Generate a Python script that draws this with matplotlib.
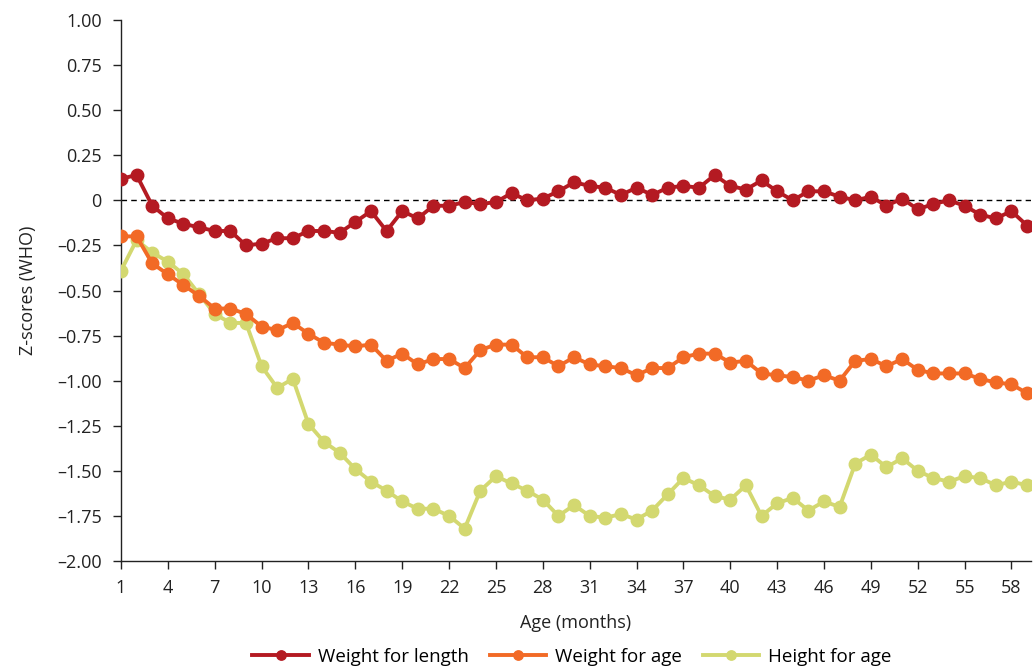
import numpy as np
import matplotlib
matplotlib.use("Agg")
import matplotlib.pyplot as plt
from matplotlib.ticker import FuncFormatter

plt.rcParams['font.family'] = ['Open Sans', 'DejaVu Sans']

months = np.arange(1, 60)

weight_for_length = [
    0.12, 0.14, -0.03, -0.10, -0.13, -0.15, -0.17, -0.17, -0.25, -0.24,
    -0.21, -0.21, -0.17, -0.17, -0.18, -0.12, -0.06, -0.17, -0.06, -0.10,
    -0.03, -0.03, -0.01, -0.02, -0.01, 0.04, 0.00, 0.01, 0.05, 0.10,
    0.08, 0.07, 0.03, 0.07, 0.03, 0.07, 0.08, 0.07, 0.14, 0.08,
    0.06, 0.11, 0.05, 0.00, 0.05, 0.05, 0.02, 0.00, 0.02, -0.03,
    0.01, -0.05, -0.02, 0.00, -0.03, -0.08, -0.10, -0.06, -0.14,
]

weight_for_age = [
    -0.20, -0.20, -0.35, -0.41, -0.47, -0.53, -0.60, -0.60, -0.63, -0.70,
    -0.72, -0.68, -0.74, -0.79, -0.80, -0.81, -0.80, -0.89, -0.85, -0.91,
    -0.88, -0.88, -0.93, -0.83, -0.80, -0.80, -0.87, -0.87, -0.92, -0.87,
    -0.91, -0.92, -0.93, -0.97, -0.93, -0.93, -0.87, -0.85, -0.85, -0.90,
    -0.89, -0.96, -0.97, -0.98, -1.00, -0.97, -1.00, -0.89, -0.88, -0.92,
    -0.88, -0.94, -0.96, -0.96, -0.96, -0.99, -1.01, -1.02, -1.07,
]

height_for_age = [
    -0.39, -0.22, -0.29, -0.34, -0.41, -0.52, -0.63, -0.68, -0.68, -0.92,
    -1.04, -0.99, -1.24, -1.34, -1.40, -1.49, -1.56, -1.61, -1.67, -1.71,
    -1.71, -1.75, -1.82, -1.61, -1.53, -1.57, -1.61, -1.66, -1.75, -1.69,
    -1.75, -1.76, -1.74, -1.77, -1.72, -1.63, -1.54, -1.58, -1.64, -1.66,
    -1.58, -1.75, -1.68, -1.65, -1.72, -1.67, -1.70, -1.46, -1.41, -1.48,
    -1.43, -1.50, -1.54, -1.56, -1.53, -1.54, -1.58, -1.56, -1.58,
]

series = [
    ("Weight for length", weight_for_length, "#B41A22"),
    ("Weight for age", weight_for_age, "#F26A26"),
    ("Height for age", height_for_age, "#D3D870"),
]

fig = plt.figure(figsize=(10.35, 6.69), dpi=100)
ax = fig.add_axes([121 / 1035, 1 - 561 / 669, 910 / 1035, 541 / 669])

zorders = [5, 4, 3]
for (name, vals, color), z in zip(series, zorders):
    ax.plot(months, vals, color=color, lw=2.8, marker="o", ms=9,
            label=name, zorder=z)

ax.axhline(0, color="black", lw=1, ls=(0, (4, 3)), zorder=2)

ax.set_xlim(1, 59.25)
ax.set_ylim(-2.0, 1.0)
ax.set_xticks(np.arange(1, 59, 3))
ax.set_yticks(np.arange(-2.0, 1.01, 0.25))


def fmt(v, pos):
    if abs(v) < 1e-9:
        return "0"
    s = "%.2f" % v
    return s.replace("-", "\u2013")


ax.yaxis.set_major_formatter(FuncFormatter(fmt))

for side in ["top", "right"]:
    ax.spines[side].set_visible(False)
for side in ["left", "bottom"]:
    ax.spines[side].set_linewidth(1.0)
    ax.spines[side].set_color("#222222")

ax.tick_params(axis="both", direction="out", length=6, width=1,
               colors="#222222", labelsize=13)
ax.tick_params(axis="x", pad=7)
ax.tick_params(axis="y", pad=8)

ax.set_xlabel("Age (months)", fontsize=13, labelpad=12, color="#222222")
ax.set_ylabel("Z-scores (WHO)", fontsize=13, labelpad=14, color="#222222")

ax.legend(loc="center", bbox_to_anchor=(572 / 1035, 1 - 657 / 669),
          bbox_transform=fig.transFigure, ncol=3, frameon=False,
          fontsize=13.5, handlelength=3.0, columnspacing=1.1,
          handletextpad=0.5, markerscale=0.75, borderpad=0.2)

fig.savefig("out.png", dpi=100)
